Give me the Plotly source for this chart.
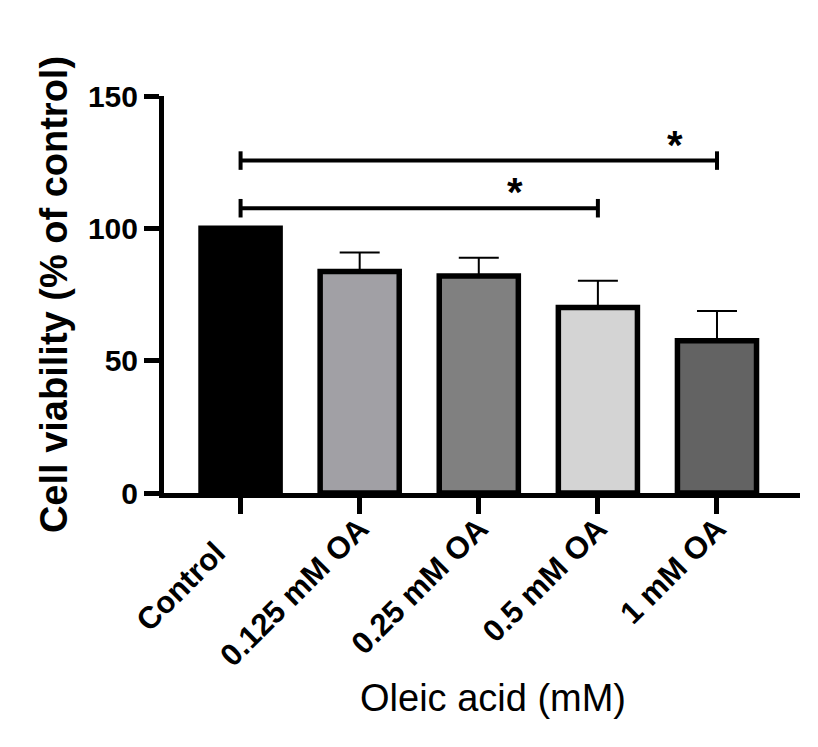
import plotly.graph_objects as go

# ---- data ----
categories = ["Control", "0.125 mM OA", "0.25 mM OA", "0.5 mM OA", "1 mM OA"]
tick_labels = ["Control\u00a0\u00a0\u00a0\u00a0", "0.125 mM OA", "0.25 mM OA", "0.5 mM OA", "1 mM OA"]
viability = [100, 83.7, 82.0, 70.1, 57.5]
sd_upper = [0, 7.2, 6.9, 10.1, 11.3]
bar_colors = ["#000000", "#A1A0A5", "#808080", "#D4D4D4", "#636363"]

y_ticks = [0, 50, 100, 150]

bracket_from = ["Control", "Control"]
bracket_to = ["0.5 mM OA", "1 mM OA"]
bracket_y = [107.6, 125.6]
star_x = [2.3, 3.65]
star_y = [113.9, 131.6]
star_text = ["*", "*"]

x_title = "Oleic acid (mM)"
y_title = "Cell viability (% of control)"

FONT = "Liberation Sans, Arial, Helvetica, sans-serif"
TICK_HALF = 3.5

fig = go.Figure()
fig.add_trace(go.Bar(
    x=categories, y=viability, width=0.664,
    marker=dict(color=bar_colors, line=dict(color="black", width=5.5)),
    error_y=dict(type="data", array=sd_upper, arrayminus=[0] * len(sd_upper),
                 symmetric=False, color="black", thickness=2, width=20),
    hoverinfo="x+y",
))

for x0, x1, y in zip(bracket_from, bracket_to, bracket_y):
    fig.add_trace(go.Scatter(
        x=[x0, x0, None, x0, x1, None, x1, x1],
        y=[y - TICK_HALF, y + TICK_HALF, None, y, y, None, y - TICK_HALF, y + TICK_HALF],
        mode="lines", line=dict(color="black", width=4),
        hoverinfo="skip", showlegend=False,
    ))

for sx, sy, st in zip(star_x, star_y, star_text):
    fig.add_annotation(x=sx, y=sy, xref="x", yref="y", text=st, showarrow=False,
                       font=dict(family=FONT, size=40, color="black", weight="bold"),
                       yanchor="middle", xanchor="center")

fig.add_annotation(x=0.518, y=-0.516, xref="paper", yref="paper", text=x_title,
                   showarrow=False, xanchor="center", yanchor="middle",
                   font=dict(family=FONT, size=38, color="black"))

fig.update_layout(
    width=818, height=747,
    margin=dict(l=156, r=26, t=88, b=262, autoexpand=False),
    plot_bgcolor="white", paper_bgcolor="white",
    showlegend=False,
    font=dict(family=FONT, color="black"),
    xaxis=dict(
        type="category", categoryorder="array", categoryarray=categories,
        tickmode="array", tickvals=categories, ticktext=tick_labels,
        range=[-0.643, 4.697],
        showline=True, linewidth=5, linecolor="black",
        ticks="outside", ticklen=16, tickwidth=5, tickcolor="black",
        tickangle=-45, ticklabelshift=0, ticklabelstandoff=-16,
        tickfont=dict(family=FONT, size=31, color="black", weight="bold"),
        showgrid=False, zeroline=False,
    ),
    yaxis=dict(
        range=[0, 150], tickvals=y_ticks,
        showline=True, linewidth=5, linecolor="black",
        ticks="outside", ticklen=15, tickwidth=5, tickcolor="black",
        tickfont=dict(family=FONT, size=30, color="black", weight="bold"),
        showgrid=False, zeroline=False,
        title=dict(text=y_title,
                   font=dict(family=FONT, size=38, color="black", weight="bold"), standoff=10),
    ),
)

fig.write_html("out.html")
